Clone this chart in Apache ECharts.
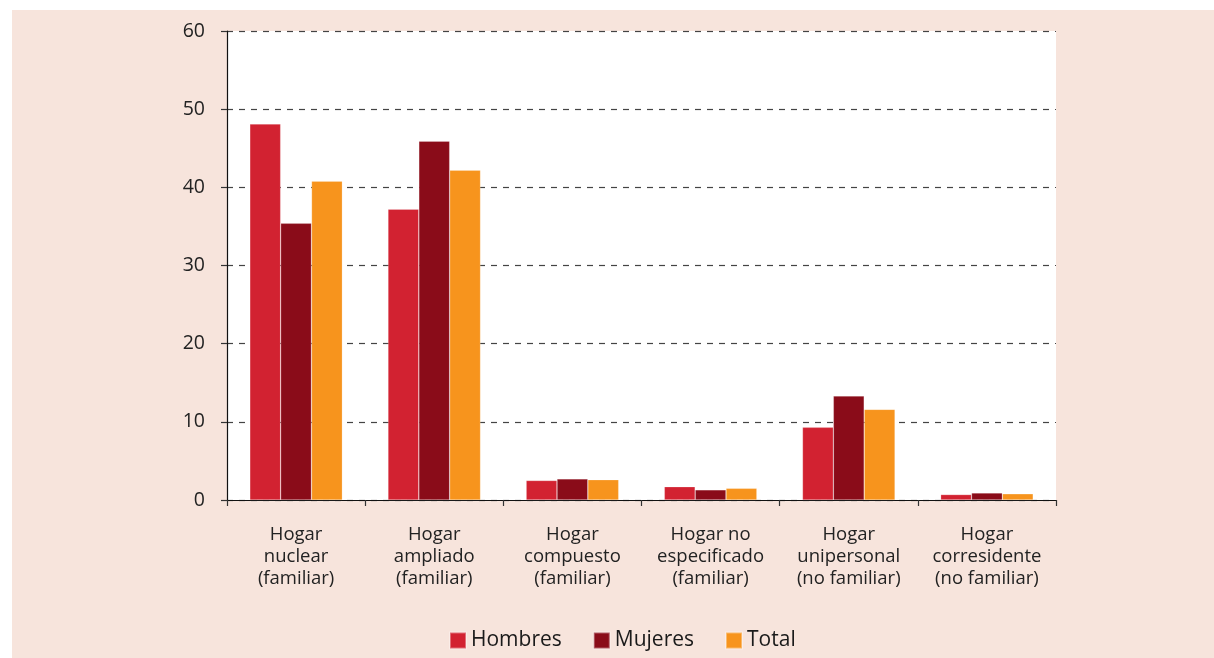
<!DOCTYPE html>
<html>
<head>
    <meta charset="UTF-8">
    <title>Hogares</title>
    <script src="https://cdn.jsdelivr.net/npm/echarts@6/dist/echarts.min.js"></script>
    <style>
        html, body { margin: 0; padding: 0; background: #fff; }
        #chart { width: 1214px; height: 658px; }
    </style>
</head>
<body>
<div id="chart"></div>
<script type="text/javascript">
    // categorias y valores (%)
    var categorias = [
        'Hogar\nnuclear\n(familiar)',
        'Hogar\nampliado\n(familiar)',
        'Hogar\ncompuesto\n(familiar)',
        'Hogar no\nespecificado\n(familiar)',
        'Hogar\nunipersonal\n(no familiar)',
        'Hogar\ncorresidente\n(no familiar)'
    ];
    var hombres = [48.1, 37.2, 2.5, 1.7, 9.3, 0.7];
    var mujeres = [35.4, 45.9, 2.7, 1.3, 13.3, 0.9];
    var total = [40.8, 42.2, 2.6, 1.5, 11.6, 0.8];

    var fuente = '"Open Sans", "Noto Sans", sans-serif';
    var myChart = echarts.init(document.getElementById('chart'));
    var barBorder = { borderColor: 'rgba(255,255,255,0.35)', borderWidth: 0.6 };

    var option = {
        backgroundColor: '#fff',
        animation: false,
        textStyle: { fontFamily: fuente },
        graphic: [{
            type: 'rect',
            z: -10,
            shape: { x: 12, y: 10, width: 1202, height: 648 },
            style: { fill: '#f7e4dc' }
        }],
        grid: {
            left: 227, right: 158, top: 31, bottom: 158,
            show: true, backgroundColor: '#fff', borderWidth: 0
        },
        legend: {
            left: 444, top: 625,
            itemWidth: 16, itemHeight: 16, itemGap: 31,
            icon: 'rect',
            textStyle: { fontSize: 21, color: '#1a1a1a', fontFamily: fuente },
            data: ['Hombres', 'Mujeres', 'Total']
        },
        xAxis: {
            type: 'category',
            data: categorias,
            axisLine: { lineStyle: { color: '#111', width: 1.2 } },
            axisTick: { show: true, length: 6, alignWithLabel: false, lineStyle: { color: '#333', width: 1.2 } },
            axisLabel: { fontSize: 18.5, color: '#222', lineHeight: 22, margin: 24, interval: 0, fontFamily: fuente }
        },
        yAxis: {
            type: 'value',
            min: 0, max: 60, interval: 10,
            axisLine: { show: true, lineStyle: { color: '#111', width: 1.2 } },
            axisTick: { show: true, length: 6, lineStyle: { color: '#333', width: 1.2 } },
            axisLabel: { fontSize: 19.5, color: '#222', margin: 22, fontFamily: fuente },
            splitLine: { show: true, lineStyle: { color: '#444', width: 1.2, type: [6, 6] } }
        },
        series: [
            { name: 'Hombres', type: 'bar', data: hombres, barGap: '0%', barCategoryGap: '33%',
              itemStyle: Object.assign({ color: '#d22231' }, barBorder) },
            { name: 'Mujeres', type: 'bar', data: mujeres,
              itemStyle: Object.assign({ color: '#8a0c19' }, barBorder) },
            { name: 'Total', type: 'bar', data: total,
              itemStyle: Object.assign({ color: '#f7941d' }, barBorder) }
        ]
    };
    myChart.setOption(option);
</script>
</body>
</html>
